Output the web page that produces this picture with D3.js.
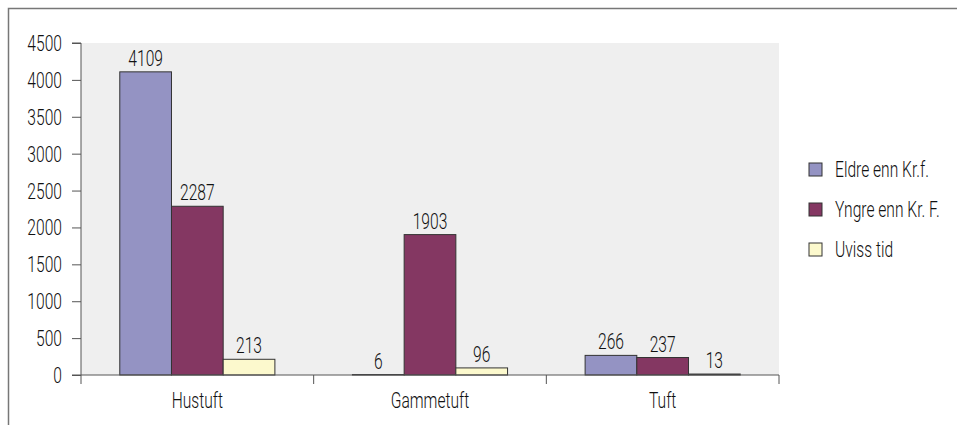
<!DOCTYPE html>
<html>
<head>
<meta charset="utf-8">
<script src="https://cdn.jsdelivr.net/npm/d3@7"></script>
<style>
  body { margin: 0; background: #fff; }
  svg { display: block; font-family: Roboto, "Noto Sans", sans-serif; font-weight: 300; }
</style>
</head>
<body>
<div id="chart"></div>
<script>
// Data
const categories = ['Hustuft', 'Gammetuft', 'Tuft'];
const seriesNames = ['Eldre enn Kr.f.', 'Yngre enn Kr. F.', 'Uviss tid'];
const eldre = [4109, 6, 266];
const yngre = [2287, 1903, 237];
const uviss = [213, 96, 13];
const yTicks = [0, 500, 1000, 1500, 2000, 2500, 3000, 3500, 4000, 4500];
const colors = ['#9493c3', '#843762', '#fcf9cd'];

const width = 957, height = 425;
const margin = { left: 81, right: 178, top: 43, bottom: 50 };
const FS = 22, SX = 0.71;

const svg = d3.select('#chart').append('svg')
  .attr('width', width)
  .attr('height', height);

// condensed-looking text: place a group, squeeze it horizontally
function label(parent, x, y, txt, anchor) {
  parent.append('g')
    .attr('transform', `translate(${x},${y}) scale(${SX},1)`)
    .append('text')
    .attr('text-anchor', anchor || 'middle')
    .attr('font-size', FS)
    .attr('fill', '#111')
    .text(txt);
}

// Outer frame (right and bottom edges run off the picture)
svg.append('rect')
  .attr('x', 8.5).attr('y', 8.5)
  .attr('width', width + 10).attr('height', height + 10)
  .attr('fill', 'none')
  .attr('stroke', '#777')
  .attr('stroke-width', 1.5);

const x0 = d3.scaleBand()
  .domain(categories)
  .range([margin.left, width - margin.right])
  .paddingInner(0).paddingOuter(0);

const x1 = d3.scaleBand()
  .domain(seriesNames)
  .range([0, x0.bandwidth()])
  .paddingInner(0)
  .paddingOuter(0.75);

const y = d3.scaleLinear()
  .domain([0, 4500])
  .range([height - margin.bottom, margin.top]);

// Plot background
svg.append('rect')
  .attr('x', margin.left)
  .attr('y', y(4500))
  .attr('width', x0.range()[1] - margin.left)
  .attr('height', y(0) - y(4500))
  .attr('fill', '#efefef');

const rows = categories.map((c, i) => ({
  cat: c,
  values: [eldre[i], yngre[i], uviss[i]].map((v, j) => ({ name: seriesNames[j], v, j }))
}));

const groups = svg.selectAll('g.group')
  .data(rows)
  .enter().append('g')
  .attr('class', 'group')
  .attr('transform', d => `translate(${x0(d.cat)},0)`);

groups.selectAll('rect')
  .data(d => d.values)
  .enter().append('rect')
  .attr('x', d => x1(d.name))
  .attr('y', d => y(d.v))
  .attr('width', x1.bandwidth())
  .attr('height', d => y(0) - y(d.v))
  .attr('fill', d => colors[d.j])
  .attr('stroke', '#333')
  .attr('stroke-width', 1);

groups.each(function(d) {
  const g = d3.select(this);
  d.values.forEach(b => label(g, x1(b.name) + x1.bandwidth() / 2, y(b.v) - 6, b.v));
});

// Y axis
const yAxis = svg.append('g')
  .attr('transform', `translate(${margin.left},0)`)
  .call(d3.axisLeft(y).tickValues(yTicks).tickSize(9).tickFormat(''));
yAxis.selectAll('line').attr('stroke', '#555');
yAxis.select('.domain').attr('stroke', '#555').attr('d', `M-9,${y(4500)}H0V${y(0)}`);
yTicks.forEach(t => label(svg, margin.left - 19, y(t) + 8, t, 'end'));

// X axis
const xAxis = svg.append('g')
  .attr('transform', `translate(0,${y(0)})`);
xAxis.append('line')
  .attr('x1', margin.left - 9).attr('x2', x0.range()[1])
  .attr('y1', 0).attr('y2', 0)
  .attr('stroke', '#555');
const bounds = categories.map(c => x0(c)).concat([x0.range()[1]]);
xAxis.selectAll('line.tick')
  .data(bounds)
  .enter().append('line')
  .attr('class', 'tick')
  .attr('x1', d => d).attr('x2', d => d)
  .attr('y1', 0).attr('y2', 9)
  .attr('stroke', '#555');
categories.forEach(c => label(xAxis, x0(c) + x0.bandwidth() / 2, 33, c));

// Legend
const legend = svg.append('g').attr('transform', 'translate(809,163)');
seriesNames.forEach((s, i) => {
  const it = legend.append('g').attr('transform', `translate(0,${i * 40})`);
  it.append('rect')
    .attr('width', 13).attr('height', 13)
    .attr('fill', colors[i])
    .attr('stroke', '#333');
  label(it, 26, 14, s, 'start');
});
</script>
</body>
</html>
